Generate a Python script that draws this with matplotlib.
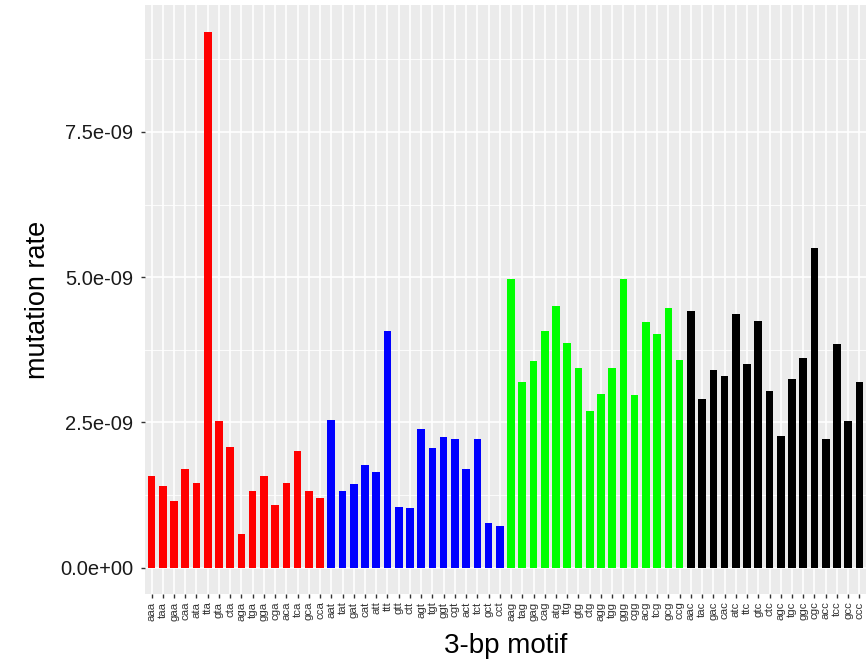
import matplotlib
matplotlib.use("Agg")
import matplotlib.pyplot as plt
import numpy as np

plt.rcParams['font.family'] = ['Liberation Sans', 'DejaVu Sans']

motifs_a = ["aaa", "taa", "gaa", "caa", "ata", "tta", "gta", "cta",
            "aga", "tga", "gga", "cga", "aca", "tca", "gca", "cca"]
motifs_t = ["aat", "tat", "gat", "cat", "att", "ttt", "gtt", "ctt",
            "agt", "tgt", "ggt", "cgt", "act", "tct", "gct", "cct"]
motifs_g = ["aag", "tag", "gag", "cag", "atg", "ttg", "gtg", "ctg",
            "agg", "tgg", "ggg", "cgg", "acg", "tcg", "gcg", "ccg"]
motifs_c = ["aac", "tac", "gac", "cac", "atc", "ttc", "gtc", "ctc",
            "agc", "tgc", "ggc", "cgc", "acc", "tcc", "gcc", "ccc"]

rates_a = [1.58, 1.41, 1.15, 1.70, 1.46, 9.22, 2.52, 2.08,
           0.58, 1.31, 1.57, 1.08, 1.45, 2.00, 1.31, 1.19]
rates_t = [2.54, 1.32, 1.44, 1.76, 1.65, 4.07, 1.05, 1.02,
           2.39, 2.05, 2.24, 2.22, 1.70, 2.21, 0.77, 0.71]
rates_g = [4.97, 3.20, 3.56, 4.07, 4.50, 3.87, 3.43, 2.69,
           2.98, 3.43, 4.97, 2.97, 4.22, 4.02, 4.47, 3.58]
rates_c = [4.41, 2.91, 3.40, 3.29, 4.37, 3.50, 4.24, 3.04,
           2.27, 3.25, 3.60, 5.50, 2.22, 3.85, 2.53, 3.20]

group_colors = ["#FF0000", "#0000FF", "#00FF00", "#000000"]

motifs = motifs_a + motifs_t + motifs_g + motifs_c
rates = np.array(rates_a + rates_t + rates_g + rates_c) * 1e-9
colors = []
for grp, col in zip([motifs_a, motifs_t, motifs_g, motifs_c], group_colors):
    colors += [col] * len(grp)

fig = plt.figure(figsize=(8.67, 6.64), dpi=100)
ax = fig.add_axes([0.167, 0.105, 0.832, 0.887])
ax.set_facecolor("#EBEBEB")

x = np.arange(len(motifs))
ax.bar(x, rates, width=0.68, color=colors, zorder=3)

ax.set_xlim(-0.6, len(motifs) - 1 + 0.6)
ymax = rates.max()
ax.set_ylim(-0.05 * ymax, ymax * 1.05)

yt = np.array([0, 2.5e-9, 5e-9, 7.5e-9])
ax.set_yticks(yt)
ax.set_yticklabels(["0.0e+00", "2.5e-09", "5.0e-09", "7.5e-09"], fontsize=14.5, color="#1a1a1a")
ax.set_yticks([1.25e-9, 3.75e-9, 6.25e-9, 8.75e-9], minor=True)
ax.set_xticks(x)
ax.set_xticklabels(motifs, rotation=90, fontsize=8.2, color="#333333")

ax.grid(True, which="major", color="white", linewidth=1.2, zorder=0)
ax.grid(True, which="minor", axis="y", color="white", linewidth=0.6, zorder=0)
ax.set_axisbelow(True)
ax.tick_params(axis="both", which="major", length=3.2, width=1.0, color="#333333")
ax.tick_params(axis="y", which="major", pad=5)
ax.tick_params(axis="x", which="major", pad=2)
ax.tick_params(which="minor", length=0)
for s in ax.spines.values():
    s.set_visible(False)

ax.set_xlabel("3-bp motif", fontsize=20, labelpad=9)
ax.set_ylabel("mutation rate", fontsize=19.5, labelpad=7)

fig.savefig("out.png", dpi=100)
